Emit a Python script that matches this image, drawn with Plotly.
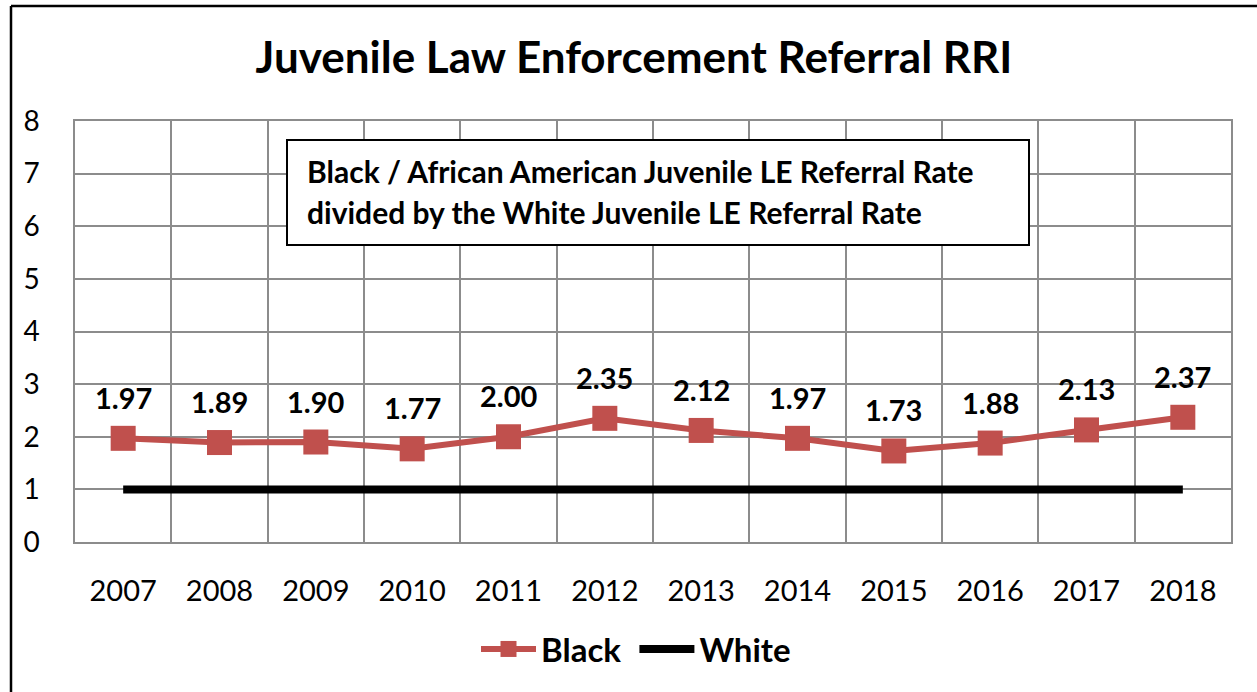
import plotly.graph_objects as go

years = ["2007", "2008", "2009", "2010", "2011", "2012", "2013", "2014", "2015", "2016", "2017", "2018"]
black = [1.97, 1.89, 1.90, 1.77, 2.00, 2.35, 2.12, 1.97, 1.73, 1.88, 2.13, 2.37]
white = [1, 1, 1, 1, 1, 1, 1, 1, 1, 1, 1, 1]
title_text = "Juvenile Law Enforcement Referral RRI"
box_lines = ["Black / African American Juvenile LE Referral Rate",
             "divided by the White Juvenile LE Referral Rate"]

W, H = 1257, 692
L, R, T, B = 75, 1231, 121, 542
pw, ph = R - L, B - T

def px(x):
    return (x - L) / pw

def py(y):
    return (B - y) / ph

FONT = "Lato"
RED = "#C0504D"
GRID = "#8C8C8C"

fig = go.Figure()
fig.add_trace(go.Scatter(
    x=years, y=black, name="<b>Black</b> ", mode="lines+markers",
    line=dict(color=RED, width=6),
    marker=dict(symbol="square", size=25, color=RED),
))
fig.add_trace(go.Scatter(
    x=years, y=white, name="<b>White</b>", mode="lines",
    line=dict(color="black", width=8),
))

for i, v in enumerate(black):
    fig.add_annotation(x=i, y=v, xref="x", yref="y", text=f"<b>{v:.2f}</b>", showarrow=False,
                       yshift=41, font=dict(family=FONT, size=29, color="black"))

# text box
fig.add_shape(type="rect", xref="paper", yref="paper",
              x0=px(287), x1=px(1029), y0=py(245), y1=py(140),
              line=dict(color="black", width=2), fillcolor="white", layer="above")
for i, t in enumerate(box_lines):
    fig.add_annotation(xref="paper", yref="paper", x=px(305), y=py(171 + 41 * i),
                       xanchor="left", yanchor="middle", text=f"<b>{t}</b>",
                       showarrow=False, font=dict(family=FONT, size=30, color="black"))

# outer frame (left and top edges visible)
fig.add_shape(type="line", xref="paper", yref="paper",
              x0=px(11), x1=px(11), y0=py(720), y1=py(6),
              line=dict(color="black", width=2.5), layer="above")
fig.add_shape(type="line", xref="paper", yref="paper",
              x0=px(11), x1=px(1270), y0=py(6), y1=py(6),
              line=dict(color="black", width=2.5), layer="above")

fig.update_layout(
    width=W, height=H,
    margin=dict(l=L, r=W - R, t=T, b=H - B),
    paper_bgcolor="white", plot_bgcolor="white",
    title=dict(text=f"<b>{title_text}</b>", x=634 / W, xanchor="center",
               y=1 - 58 / H, yanchor="middle",
               font=dict(family=FONT, size=44, color="black")),
    showlegend=True,
    legend=dict(orientation="h", x=px(636), xanchor="center", y=py(649), yanchor="middle",
                font=dict(family=FONT, size=33, color="black"), itemwidth=55,
                traceorder="normal"),
    font=dict(family=FONT, color="black"),
)
fig.update_xaxes(type="category", tickson="boundaries", showgrid=True, gridcolor=GRID,
                 gridwidth=1.5, showline=True, linecolor=GRID, linewidth=1.5, mirror=True,
                 ticks="", tickfont=dict(family=FONT, size=29, color="black"),
                 ticklabelstandoff=22, range=[-0.5, 11.5])
fig.update_yaxes(range=[0, 8], dtick=1, showgrid=True, gridcolor=GRID, gridwidth=1.5,
                 showline=True, linecolor=GRID, linewidth=1.5, mirror=True, zeroline=False,
                 ticks="", tickfont=dict(family=FONT, size=28, color="black"),
                 ticklabelstandoff=28)

fig.write_html("out.html", config={"displayModeBar": False},
               post_script="document.body.style.margin='0';")
